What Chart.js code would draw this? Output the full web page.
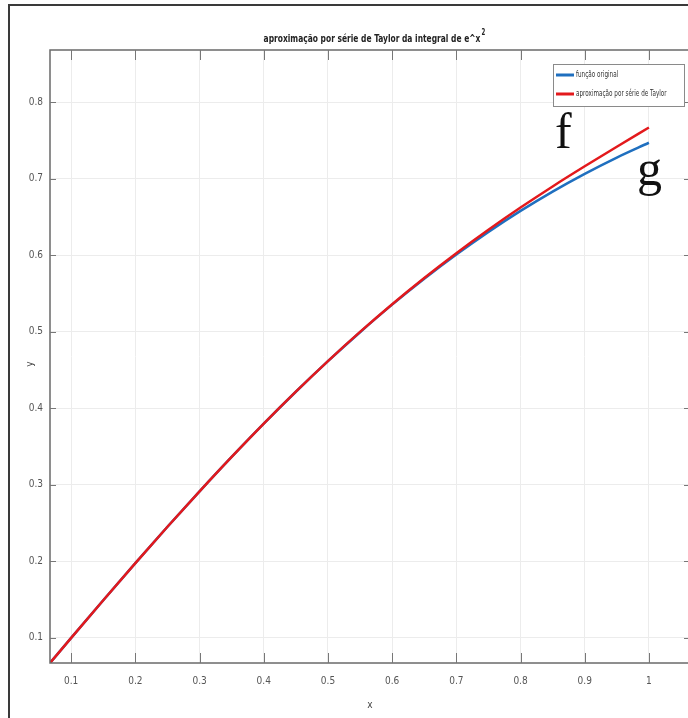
<!DOCTYPE html>
<html>
<head>
<meta charset="utf-8">
<script src="https://cdn.jsdelivr.net/npm/chart.js@4.4.1/dist/chart.umd.min.js"></script>
<style>
  html, body { margin: 0; padding: 0; background: #fff; overflow: hidden; }
  #grafico { display: block; }
</style>
</head>
<body>
<canvas id="grafico" width="692" height="718"></canvas>
<script>
// valores (x e as duas curvas)
const valoresX = [0.067, 0.1, 0.15, 0.2, 0.25, 0.3, 0.35, 0.4, 0.45, 0.5, 0.55, 0.6, 0.65, 0.7, 0.75, 0.8, 0.85, 0.9, 0.95, 1.0];
const funcaoOriginal = [0.0669, 0.0997, 0.1489, 0.1974, 0.2449, 0.2912, 0.3362, 0.3797, 0.4214, 0.4613, 0.4992, 0.5352, 0.5690, 0.6007, 0.6303, 0.6577, 0.6830, 0.7062, 0.7275, 0.7468];
const aproxTaylor = [0.0669, 0.0997, 0.1489, 0.1974, 0.2449, 0.2912, 0.3362, 0.3797, 0.4215, 0.4615, 0.4996, 0.5358, 0.5701, 0.6025, 0.6331, 0.6621, 0.6897, 0.7160, 0.7416, 0.7667];
const ticksX = [0.1, 0.2, 0.3, 0.4, 0.5, 0.6, 0.7, 0.8, 0.9, 1];
const ticksY = [0.1, 0.2, 0.3, 0.4, 0.5, 0.6, 0.7, 0.8];
const nomesSeries = ["função original", "aproximação por série de Taylor"];
const coresSeries = ["#1f6fbf", "#e3191c"];

const FONTE = "'Liberation Sans Narrow', 'DejaVu Sans Condensed', 'Arial Narrow', sans-serif";

// texto "estreito": não há fonte narrow, então comprime na horizontal
function textoEstreito(ctx, txt, x, y, escala) {
    ctx.save();
    ctx.translate(x, y);
    ctx.scale(escala, 1);
    ctx.fillText(txt, 0, 0);
    ctx.restore();
    return ctx.measureText(txt).width * escala;
}

// desenha a moldura, título, ticks internos, legenda e as letras f / g
const decoracao = {
    id: "decoracao",
    afterDraw(chart) {
        const ctx = chart.ctx;
        const a = chart.chartArea;
        const sx = chart.scales.x, sy = chart.scales.y;
        ctx.save();

        // moldura externa
        ctx.strokeStyle = "#3a3a3a";
        ctx.lineWidth = 2;
        ctx.strokeRect(9, 5, 720, 760);

        // caixa dos eixos
        ctx.strokeStyle = "#6a6a6a";
        ctx.lineWidth = 1.5;
        ctx.strokeRect(a.left, a.top, a.right - a.left, a.bottom - a.top);

        // ticks para dentro
        ctx.lineWidth = 1;
        ctx.strokeStyle = "#777";
        ctx.beginPath();
        ticksX.forEach((v) => {
            const px = Math.round(sx.getPixelForValue(v)) + 0.5;
            ctx.moveTo(px, a.bottom); ctx.lineTo(px, a.bottom - 10);
            ctx.moveTo(px, a.top); ctx.lineTo(px, a.top + 10);
        });
        ticksY.forEach((v) => {
            const py = Math.round(sy.getPixelForValue(v)) + 0.5;
            ctx.moveTo(a.left, py); ctx.lineTo(a.left + 6, py);
            ctx.moveTo(a.right, py); ctx.lineTo(a.right - 6, py);
        });
        ctx.stroke();

        // título
        const titulo = "aproximação por série de Taylor da integral de e^x";
        ctx.fillStyle = "#222";
        ctx.font = "bold 11px " + FONTE;
        ctx.textAlign = "left";
        ctx.textBaseline = "alphabetic";
        const esc = 0.76;
        const w = ctx.measureText(titulo).width * esc;
        const x0 = 372 - w / 2;
        textoEstreito(ctx, titulo, x0, 42, esc);
        ctx.font = "bold 8px " + FONTE;
        textoEstreito(ctx, "2", x0 + w + 1, 35, esc);

        // rótulos dos eixos
        ctx.font = "10px " + FONTE;
        ctx.fillStyle = "#444";
        ctx.textAlign = "center";
        ctx.textBaseline = "middle";
        ctx.fillText("x", 370, 705);
        ctx.save();
        ctx.translate(30, 364);
        ctx.rotate(-Math.PI / 2);
        ctx.fillText("y", 0, 0);
        ctx.restore();

        // legenda
        const lx = 553, ly = 64, lw = 131, lh = 42;
        ctx.fillStyle = "#fff";
        ctx.fillRect(lx, ly, lw, lh);
        ctx.strokeStyle = "#8a8a8a";
        ctx.lineWidth = 1;
        ctx.strokeRect(lx + 0.5, ly + 0.5, lw, lh);
        ctx.font = "9px " + FONTE;
        ctx.textAlign = "left";
        ctx.textBaseline = "middle";
        chart.data.datasets.forEach((ds, i) => {
            const yy = ly + 11 + i * 19;
            ctx.strokeStyle = ds.borderColor;
            ctx.lineWidth = 3;
            ctx.beginPath();
            ctx.moveTo(lx + 3, yy); ctx.lineTo(lx + 21, yy);
            ctx.stroke();
            ctx.fillStyle = "#333";
            textoEstreito(ctx, ds.label, lx + 23, yy, 0.7);
        });

        // letras f e g
        ctx.fillStyle = "#111";
        ctx.font = "50px 'Liberation Serif', 'DejaVu Serif', serif";
        ctx.textBaseline = "alphabetic";
        ctx.fillText("f", 555, 148);
        ctx.fillText("g", 637, 185);

        ctx.restore();
    },
};

const ctx = document.getElementById("grafico").getContext("2d");
const chart = new Chart(ctx, {
    type: "line",
    data: {
        datasets: [
            {
                label: nomesSeries[0],
                data: valoresX.map((x, i) => ({ x, y: funcaoOriginal[i] })),
                borderColor: coresSeries[0],
                borderWidth: 2.5,
                pointRadius: 0,
                cubicInterpolationMode: "monotone",
                order: 1,
            },
            {
                label: nomesSeries[1],
                data: valoresX.map((x, i) => ({ x, y: aproxTaylor[i] })),
                borderColor: coresSeries[1],
                borderWidth: 2.5,
                pointRadius: 0,
                cubicInterpolationMode: "monotone",
                order: 0,
            },
        ],
    },
    options: {
        responsive: false,
        animation: false,
        layout: { padding: { left: 0, right: 2, top: 50, bottom: 0 } },
        plugins: { legend: { display: false }, tooltip: { enabled: false } },
        scales: {
            x: {
                type: "linear",
                min: 0.067,
                max: 1.064,
                afterBuildTicks: (s) => { s.ticks = ticksX.map((v) => ({ value: v })); },
                afterFit: (s) => { s.height = 55; },
                ticks: {
                    padding: 12,
                    color: "#555",
                    font: { family: FONTE, size: 10 },
                    maxRotation: 0,
                    callback: (v) => String(+v.toFixed(2)),
                },
                grid: { color: "#ececec", drawTicks: false },
                border: { display: false },
            },
            y: {
                type: "linear",
                min: 0.0669,
                max: 0.868,
                afterBuildTicks: (s) => { s.ticks = ticksY.map((v) => ({ value: v })); },
                afterFit: (s) => { s.width = 50; },
                ticks: {
                    padding: 7,
                    color: "#555",
                    font: { family: FONTE, size: 10 },
                    callback: (v) => String(+v.toFixed(2)),
                },
                grid: { color: "#ececec", drawTicks: false },
                border: { display: false },
            },
        },
    },
    plugins: [decoracao],
});
</script>
</body>
</html>
